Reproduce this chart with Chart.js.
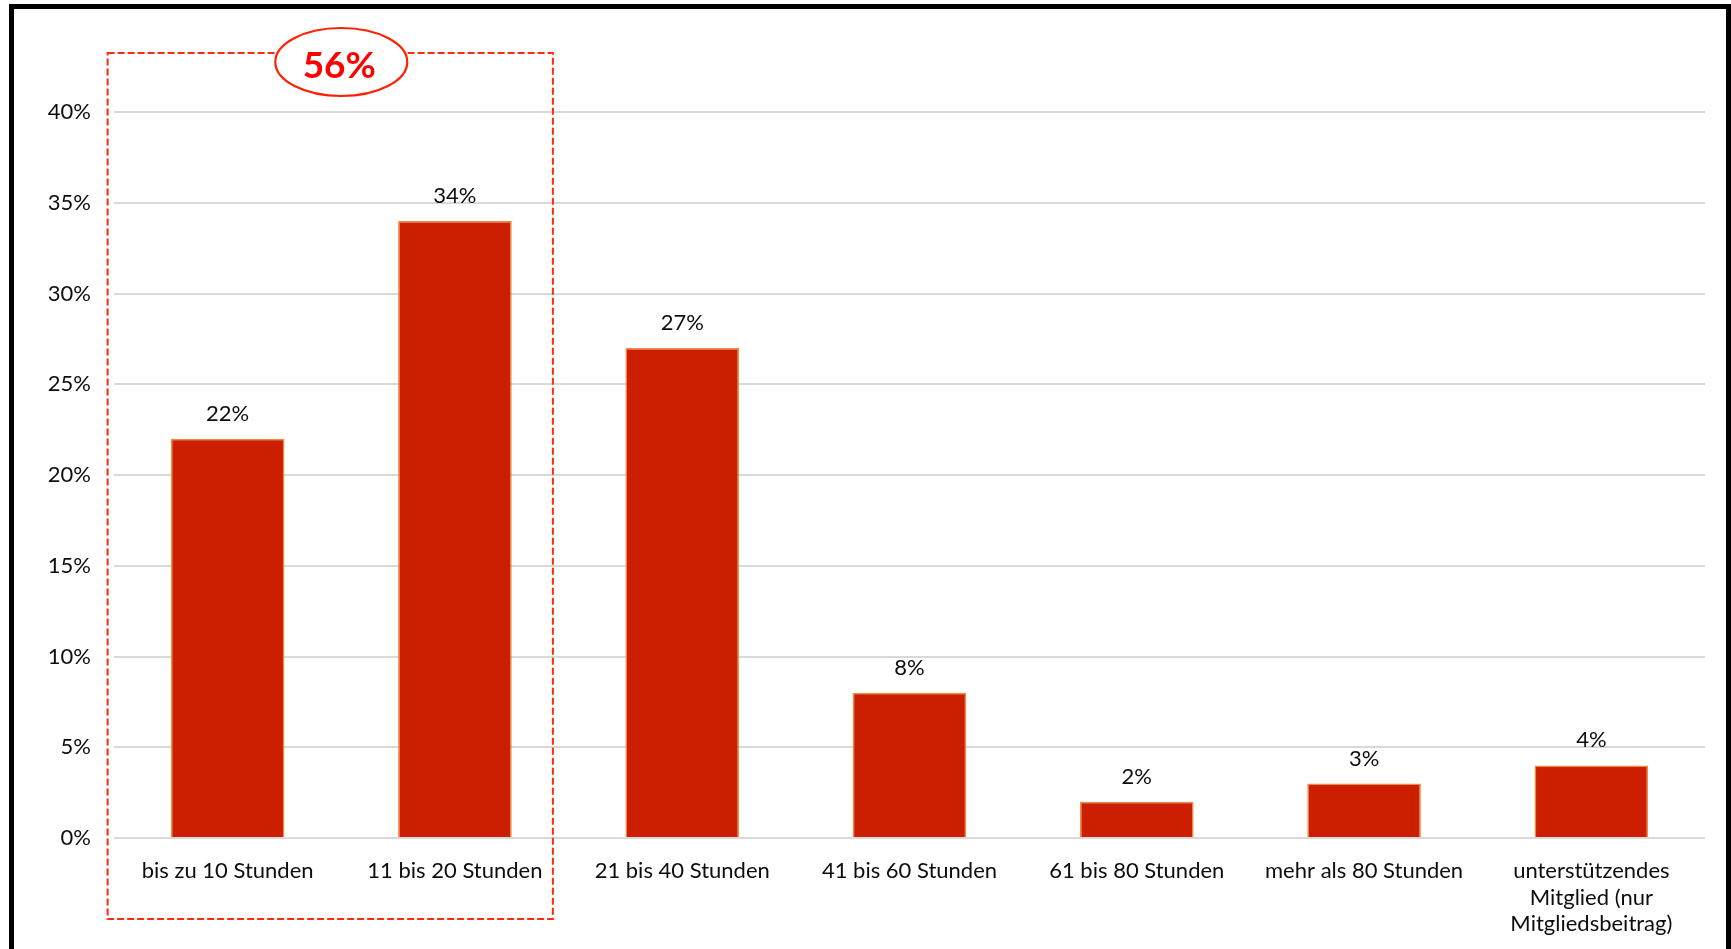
<!DOCTYPE html>
<html><head><meta charset="utf-8">
<script src="https://cdn.jsdelivr.net/npm/chart.js@4.4.0/dist/chart.umd.min.js"></script>
<style>
html,body{margin:0;padding:0;background:#fff;overflow:hidden;width:1731px;height:949px;}
#frame{position:absolute;left:9px;top:4px;width:1712px;height:1000px;border:5px solid #000;border-bottom:none;}
#wrap{position:absolute;left:0;top:0;width:1731px;height:949px;}
</style></head><body>
<div id="frame"></div>
<div id="wrap"><canvas id="c"></canvas></div>
<script>
const categories = [
  "bis zu 10 Stunden",
  "11 bis 20 Stunden",
  "21 bis 40 Stunden",
  "41 bis 60 Stunden",
  "61 bis 80 Stunden",
  "mehr als 80 Stunden",
  ["unterstützendes", "Mitglied (nur", "Mitgliedsbeitrag)"]
];
const values = [22, 34, 27, 8, 2, 3, 4];
const yMin = 0, yMax = 40, yStep = 5;
const highlighted = [0, 1];

const FONT = "Lato";
const valueLabels = {
  id: 'valueLabels',
  afterDatasetsDraw(chart) {
    const ctx = chart.ctx;
    const meta = chart.getDatasetMeta(0);
    ctx.save();
    ctx.font = "22px " + FONT;
    ctx.fillStyle = "#0d0d0d";
    ctx.textAlign = "center";
    ctx.textBaseline = "middle";
    meta.data.forEach((bar, i) => {
      ctx.fillText(values[i] + "%", bar.x, bar.y - 25);
    });
    ctx.restore();
  }
};
const highlightBox = {
  id: 'highlightBox',
  afterDraw(chart) {
    const ctx = chart.ctx;
    const xs = chart.scales.x, ys = chart.scales.y;
    const x0 = xs.getPixelForValue(highlighted[0]);
    const x1 = xs.getPixelForValue(highlighted[highlighted.length - 1]);
    const step = xs.getPixelForValue(1) - xs.getPixelForValue(0);
    const left = x0 - 0.528 * step, right = x1 + 0.431 * step;
    const top = ys.top - 59, bottom = ys.bottom + 81;
    ctx.save();
    ctx.strokeStyle = "#FF2A10";
    ctx.lineWidth = 2;
    ctx.setLineDash([7, 3]);
    ctx.strokeRect(left, top, right - left, bottom - top);
    ctx.setLineDash([]);
    const cx = (x0 + x1) / 2, cy = top + 9;
    ctx.beginPath();
    ctx.ellipse(cx, cy, 66, 34, 0, 0, Math.PI * 2);
    ctx.fillStyle = "#fff";
    ctx.fill();
    ctx.strokeStyle = "#FF2000";
    ctx.lineWidth = 2.2;
    ctx.stroke();
    const sum = highlighted.reduce((s, i) => s + values[i], 0);
    ctx.fillStyle = "#FF0000";
    ctx.font = "bold 37px " + FONT;
    ctx.textAlign = "center";
    ctx.textBaseline = "middle";
    ctx.fillText(sum + "%", cx - 2, cy + 4);
    ctx.restore();
  }
};

new Chart(document.getElementById('c'), {
  type: 'bar',
  data: {
    labels: categories,
    datasets: [{
      data: values,
      backgroundColor: "#CC1E00",
      borderColor: "#F08A3C",
      borderWidth: 1.5,
      barPercentage: 0.5,
      categoryPercentage: 1.0
    }]
  },
  options: {
    responsive: true,
    maintainAspectRatio: false,
    animation: false,
    devicePixelRatio: 1,
    layout: { padding: { left: 0, right: 26, top: 112, bottom: 0 } },
    plugins: { legend: { display: false }, tooltip: { enabled: false } },
    scales: {
      x: {
        grid: { display: false, drawTicks: false },
        border: { display: false },
        ticks: {
          color: "#0d0d0d",
          font: { family: FONT, size: 22, lineHeight: 1.2 },
          padding: 20,
          maxRotation: 0,
          autoSkip: false
        },
        afterFit(scale) { scale.height = 111; }
      },
      y: {
        min: yMin, max: yMax,
        grid: { color: "#D9D9D9", lineWidth: 2, drawTicks: false },
        border: { display: false },
        ticks: {
          stepSize: yStep,
          color: "#0d0d0d",
          font: { family: FONT, size: 22 },
          padding: 23,
          callback: v => v + "%"
        },
        afterFit(scale) { scale.width = 114; }
      }
    }
  },
  plugins: [valueLabels, highlightBox]
});
</script>
</body></html>
